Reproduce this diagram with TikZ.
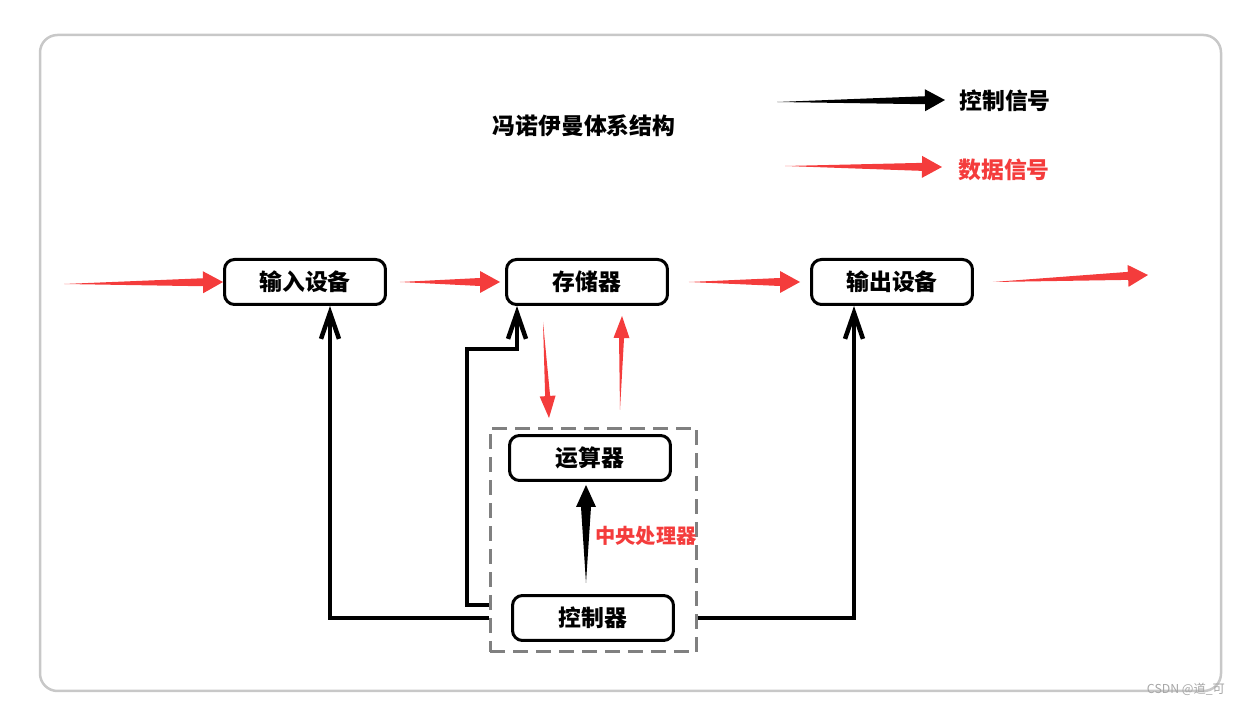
\documentclass[tikz,border=0pt]{standalone}
\usepackage{fontspec}
\setmainfont{Noto Sans CJK SC}
\usetikzlibrary{arrows.meta,positioning,calc}
\definecolor{datared}{RGB}{244,60,60}
\definecolor{framegray}{RGB}{200,200,200}
\definecolor{cpugray}{RGB}{128,128,128}
\tikzset{
  unit/.style={draw, line width=0.06cm, rounded corners=0.2cm, minimum width=3.22cm, minimum height=0.9cm, font=\fontsize{13}{15}\selectfont\bfseries},
  ctrl/.style={line width=0.09cm, -{Straight Barb[length=0.52cm,width=0.36cm]}},
  lbl/.style={font=\fontsize{13}{15}\selectfont\bfseries}
}
% tapered signal arrow: colour, from, to, head length, head half width, shaft half width
\newcommand{\sig}[6]{%
  \coordinate (h) at ($(#3)!#4!(#2)$);
  \fill[#1] (#2) -- ($(h)!#6!90:(#3)$) -- ($(h)!#5!90:(#3)$) -- (#3)
    -- ($(h)!#5!-90:(#3)$) -- ($(h)!#6!-90:(#3)$) -- cycle;}

\begin{document}
\begin{tikzpicture}[x = 0.02cm, y = -0.02cm]
\useasboundingbox (0,0) rectangle (1242,705);
\draw[framegray, line width=0.05cm, rounded corners=0.35cm] (40,35) rectangle (1221,691);

\node[lbl] (title) at (584,126) {冯诺伊曼体系结构};

% legend
\coordinate (c0) at (777,102);
\coordinate (c1) at (945,100);
\node[lbl] (ctrltxt) at (1005,101) {控制信号};
\coordinate (d0) at (785,166);
\coordinate (d1) at (942,167);
\node[lbl, text=datared] (datatxt) at (1004,170) {数据信号};
\sig{black}{c0}{c1}{0.4cm}{0.22cm}{0.08cm}
\sig{datared}{d0}{d1}{0.4cm}{0.22cm}{0.08cm}

% units
\node (in) at (305,282) [unit] {输入设备};
\node (mem) at (587,282) [unit] {存储器};
\node (out) at (892,282) [unit] {输出设备};
\node (cpu) at (593.5,540) [draw=cpugray, line width=0.06cm, dash pattern=on 0.3cm off 0.16cm, minimum width=4.14cm, minimum height=4.48cm] {};
\node (alu) at (590,458) [unit] {运算器};
\node (ctl) at (593,618) [unit] {控制器};
\node[text=datared, font=\fontsize{11.5}{13}\selectfont\bfseries] (cpulbl) at (646,536) {中央处理器};

% data flow
\coordinate (src) at (64,284);
\coordinate[right=0.26cm of in] (ia);
\coordinate[left=0.1cm of mem] (mb);
\coordinate[right=0.4cm of mem] (ma);
\coordinate[left=0.2cm of out] (ob);
\coordinate[right=0.38cm of out] (oa);
\coordinate (sink) at (1148,275);
\coordinate (s0) at (543,322);
\coordinate (s1) at (549,418);
\coordinate (r0) at (620,410);
\coordinate (r1) at (622,316);
\sig{datared}{src}{in.west}{0.4cm}{0.22cm}{0.08cm}
\sig{datared}{ia}{mb}{0.4cm}{0.22cm}{0.08cm}
\sig{datared}{ma}{ob}{0.4cm}{0.22cm}{0.08cm}
\sig{datared}{oa}{sink}{0.4cm}{0.22cm}{0.08cm}
\sig{datared}{s0}{s1}{0.44cm}{0.16cm}{0.05cm}
\sig{datared}{r0}{r1}{0.44cm}{0.16cm}{0.05cm}

% control flow
\coordinate (k0) at (586,583);
\coordinate (k1) at (586,485);
\sig{black}{k0}{k1}{0.44cm}{0.2cm}{0.1cm}
\draw[ctrl] (cpu.west |- ctl) -| ([xshift=0.5cm]in.south);
\draw[ctrl] ([yshift=0.26cm]cpu.west |- ctl) -| (467,349) -| ([xshift=-1.4cm]mem.south);
\draw[ctrl] (cpu.east |- ctl) -| ([xshift=-0.76cm]out.south);

\node[text=black!35, font=\fontsize{7}{8}\selectfont] (mark) at (1186,689) {CSDN @道\_可};

\end{tikzpicture}
\end{document}
